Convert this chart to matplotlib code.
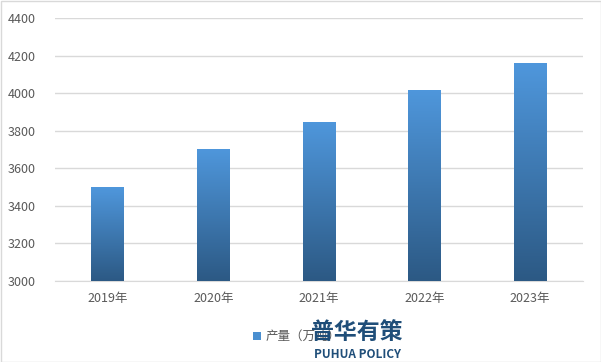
import matplotlib
matplotlib.use("Agg")
import matplotlib.pyplot as plt
import numpy as np
from matplotlib.colors import LinearSegmentedColormap
from matplotlib.patches import Rectangle

plt.rcParams['font.family'] = ['Noto Sans CJK SC', 'DejaVu Sans']

categories = ['2019年', '2020年', '2021年', '2022年', '2023年']
values = [3500, 3705, 3848, 4018, 4158]
series_name = '产量（万吨）'
yticks = [3000, 3200, 3400, 3600, 3800, 4000, 4200, 4400]

fig = plt.figure(figsize=(6.01, 3.62), dpi=100)
W, H = 601, 362
ax = fig.add_axes([55 / W, 1 - 281 / H, (583 - 55) / W, (281 - 18) / H])

cmap = LinearSegmentedColormap.from_list('g', ['#2c5984', '#4f97dc'])
x = np.arange(len(categories))
bars = ax.bar(x, [v - 3000 for v in values], bottom=3000, width=0.31, color='none', zorder=3)
grad = np.linspace(0, 1, 256).reshape(-1, 1)
for b in bars:
    x0, y0 = b.get_x(), b.get_y()
    im = ax.imshow(grad, extent=[x0, x0 + b.get_width(), y0, y0 + b.get_height()],
                   origin='lower', cmap=cmap, aspect='auto', zorder=3)
    im.set_clip_path(b)

ax.set_xlim(-0.5, len(categories) - 0.5)
ax.set_ylim(3000, 4400)
ax.set_yticks(yticks)
ax.set_xticks(x)
ax.set_xticklabels(categories)
ax.yaxis.grid(True, color='#d9d9d9', linewidth=1)
ax.set_axisbelow(True)
for s in ['top', 'right', 'left']:
    ax.spines[s].set_visible(False)
ax.spines['bottom'].set_color('#d9d9d9')
ax.tick_params(axis='both', length=0, colors='#595959', labelsize=9)
ax.tick_params(axis='y', pad=14)
ax.tick_params(axis='x', pad=8)

# legend
fig.patches.append(Rectangle((253 / W, 1 - 340 / H), 8 / W, 8 / H, transform=fig.transFigure,
                             facecolor='#4a8fd0', edgecolor='none'))
fig.text(266 / W, 1 - 336 / H, series_name, fontsize=9, color='#595959', va='center', ha='left')

# watermark
fig.text(357 / W, 1 - 332 / H, '普华有策', fontsize=16.5, fontweight='bold', color='#1f4e79',
         ha='center', va='center')
fig.text(357 / W, 1 - 354 / H, 'PUHUA POLICY', fontsize=8.5, fontweight='bold', color='#1f4e79',
         ha='center', va='center')

# border
fig.patches.append(Rectangle((0.5 / W, 0.5 / H), 1 - 1 / W, 1 - 1 / H, transform=fig.transFigure,
                             facecolor='none', edgecolor='#d9d9d9', linewidth=1))

fig.savefig('out.png', dpi=100)
